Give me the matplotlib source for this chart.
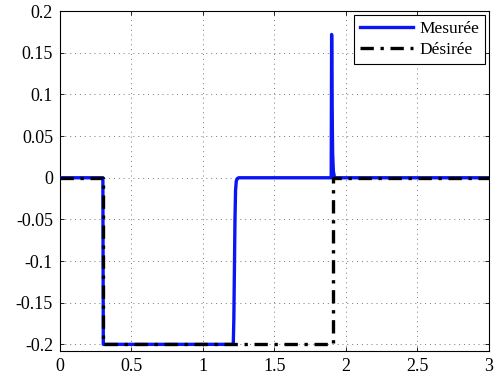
import matplotlib
matplotlib.use("Agg")
import matplotlib.pyplot as plt

plt.rcParams['font.family'] = ['Liberation Serif', 'DejaVu Serif']
plt.rcParams['mathtext.fontset'] = 'stix'

# Measured signal (Mesurée)
t_mes = [0.0, 0.300, 0.303, 1.212, 1.216, 1.220, 1.224, 1.228, 1.233, 1.240, 1.250,
         1.897, 1.900, 1.903, 1.907, 1.912, 1.920, 3.0]
y_mes = [0.0, 0.0, -0.2, -0.2, -0.17, -0.11, -0.05, -0.015, -0.004, -0.001, 0.0,
         0.0, 0.172, 0.09, 0.03, 0.008, 0.0, 0.0]

# Desired signal (Désirée)
t_des = [0.0, 0.300, 0.300, 1.910, 1.910, 3.0]
y_des = [0.0, 0.0, -0.2, -0.2, 0.0, 0.0]

x_ticks = [0, 0.5, 1, 1.5, 2, 2.5, 3]
x_labels = ['0', '0.5', '1', '1.5', '2', '2.5', '3']
y_ticks = [-0.2, -0.15, -0.1, -0.05, 0, 0.05, 0.1, 0.15, 0.2]
y_labels = ['-0.2', '-0.15', '-0.1', '-0.05', '0', '0.05', '0.1', '0.15', '0.2']

fig = plt.figure(figsize=(4.97, 3.81), dpi=100)
ax = fig.add_axes([0.1207, 0.0787, 0.863, 0.892])

ax.plot(t_mes, y_mes, color='#0a14f5', lw=2.4, label='Mesurée', zorder=3)
ax.plot(t_des, y_des, color='black', lw=2.4, linestyle=(0, (4, 2, 1, 2)), label='Désirée', zorder=4)

ax.set_xlim(0, 3)
ax.set_ylim(-0.208, 0.2)
ax.set_xticks(x_ticks)
ax.set_xticklabels(x_labels)
ax.set_yticks(y_ticks)
ax.set_yticklabels(y_labels)
ax.tick_params(direction='in', top=True, right=True, labelsize=13, length=3, width=0.6, pad=5)
ax.grid(True, linestyle=(0, (1, 4)), color='#777777', linewidth=0.7)
for s in ax.spines.values():
    s.set_linewidth(0.8)

leg = ax.legend(loc='upper right', fontsize=12.5, fancybox=False, framealpha=1,
                edgecolor='black', borderaxespad=0.2, handlelength=3.0,
                borderpad=0.35, labelspacing=0.3, handletextpad=0.4)
leg.get_frame().set_linewidth(0.8)

fig.savefig('out.png', dpi=100)
